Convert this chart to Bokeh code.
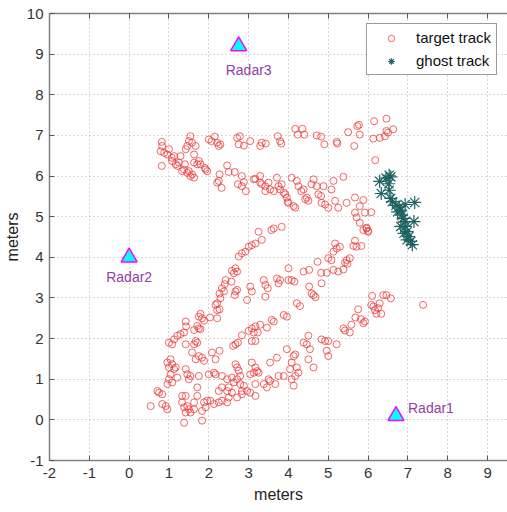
from bokeh.plotting import figure
from bokeh.models import LinearAxis, Range1d, ColumnDataSource
from bokeh.embed import file_html
from bokeh.resources import INLINE
from bokeh.core.properties import value

# ---------------- data ----------------
target_pts = [
    # top band, left part
    (0.82, 6.84), (0.83, 6.74), (0.79, 6.61), (0.88, 6.57), (0.82, 6.25), (1.0, 6.66),
    (1.07, 6.45), (0.96, 6.53), (1.13, 6.49), (1.08, 6.37), (1.17, 6.29), (1.25, 6.33),
    (1.29, 6.49), (1.21, 6.25), (1.33, 6.12), (1.4, 6.29), (1.38, 6.16), (1.46, 6.08),
    (1.5, 6.12), (1.54, 6.0), (1.58, 6.04), (1.63, 5.96), (1.5, 6.86), (1.46, 6.74),
    (1.42, 6.66), (1.54, 6.98), (1.58, 6.82), (1.67, 6.74), (1.63, 6.53), (1.63, 6.33),
    (1.71, 6.29), (1.75, 6.37), (1.79, 6.29), (1.9, 6.2), (1.96, 6.12), (1.92, 6.16),
    (2.0, 6.9), (2.07, 6.86), (2.15, 6.97), (2.21, 6.82), (2.25, 6.74), (2.29, 6.78),
    (2.46, 6.26), (2.5, 6.1), (2.65, 6.1), (2.71, 6.94), (2.78, 6.98), (2.75, 6.78),
    (2.88, 6.75), (3.04, 6.86), (3.29, 6.74), (3.33, 6.82), (3.43, 6.8), (3.73, 6.98),
    (3.79, 6.86), (3.82, 6.8), (2.21, 5.84), (2.27, 6.04), (2.32, 5.71), (2.25, 5.88),
    (2.83, 6.0), (2.88, 5.85), (2.73, 5.8), (2.83, 5.75), (2.93, 5.63), (3.13, 5.92),
    (3.17, 5.93), (3.29, 6.0), (3.29, 5.84), (3.33, 5.8), (3.42, 5.75), (3.5, 5.84),
    (3.54, 5.67), (3.42, 5.63), (3.71, 5.96), (3.75, 5.75), (3.79, 5.67), (3.83, 5.8),
    (3.88, 5.59), (3.92, 5.55), (3.96, 5.47), (4.0, 5.34), (3.63, 5.63),
    # top band, right part
    (4.17, 7.16), (4.35, 7.16), (4.23, 7.02), (4.4, 7.02), (4.71, 7.0), (4.82, 6.97),
    (4.9, 6.78), (5.21, 6.84), (5.23, 6.8), (5.5, 7.08), (5.73, 7.23), (5.77, 7.26),
    (5.79, 7.02), (5.65, 6.74), (6.15, 7.35), (6.46, 7.41), (6.13, 6.92), (6.29, 6.94),
    (6.42, 6.98), (6.5, 7.07), (6.63, 7.15), (6.46, 7.11), (6.18, 6.39),
    # second band, right part
    (4.08, 5.96), (4.21, 5.88), (4.25, 5.75), (4.32, 5.63), (4.38, 5.67), (4.42, 5.43),
    (4.5, 5.39), (4.46, 5.47), (4.63, 5.92), (4.58, 5.8), (4.71, 5.75), (4.75, 5.55),
    (4.82, 5.51), (4.88, 5.75), (4.83, 5.34), (4.92, 5.3), (5.0, 5.22), (5.08, 5.67),
    (5.13, 5.88), (5.17, 5.39), (5.25, 5.22), (5.38, 5.98), (5.46, 5.34), (5.67, 5.47),
    (5.88, 5.41), (5.67, 5.1), (5.79, 5.26), (5.92, 5.1), (6.08, 5.11), (5.71, 4.98),
    (5.79, 4.85), (5.96, 4.73), (6.0, 4.65), (4.17, 5.22), (4.13, 5.26), (3.98, 5.36),
    (6.83, 4.87),
    # middle diagonals, left
    (3.25, 4.63), (3.33, 4.43), (3.57, 4.67), (3.63, 4.71), (3.83, 4.75), (2.92, 4.14),
    (3.0, 4.26), (3.08, 4.3), (3.17, 4.34), (2.83, 4.1), (2.75, 4.02), (2.67, 3.73),
    (2.71, 3.65), (2.63, 3.61), (2.58, 3.67), (2.42, 3.44), (2.4, 3.34), (2.33, 3.24),
    (2.38, 3.16), (2.27, 3.11), (2.29, 2.99), (2.21, 2.87), (2.17, 2.83), (2.27, 2.72),
    (2.21, 2.7), (2.57, 3.4), (2.67, 3.16), (2.71, 3.2), (2.65, 3.07), (2.96, 2.95),
    (3.04, 3.28), (3.08, 3.16), (3.38, 3.44), (3.42, 3.32), (3.48, 3.24), (3.42, 3.03),
    (3.71, 3.48), (3.79, 3.44), (3.75, 3.36), (4.0, 3.44), (3.88, 2.58), (3.96, 2.54),
    (3.58, 2.46), (3.63, 2.42), (3.17, 2.3), (3.08, 2.25), (3.29, 2.34), (1.79, 2.61),
    (1.75, 2.54), (1.83, 2.5), (1.88, 2.44), (2.03, 2.52), (2.21, 2.5), (1.42, 2.42),
    (1.43, 2.3), (1.71, 2.31), (1.75, 2.25), (1.63, 2.21),
    # middle diagonals, right
    (5.88, 4.67), (6.0, 4.63), (5.96, 4.71), (5.17, 4.34), (5.21, 4.22), (5.29, 4.26),
    (5.13, 4.14), (5.0, 3.98), (5.08, 3.93), (5.67, 4.41), (5.63, 4.28), (5.71, 4.26),
    (5.83, 4.28), (5.54, 3.98), (5.46, 3.93), (5.42, 3.87), (5.48, 3.84), (5.38, 3.7),
    (5.25, 3.65), (5.13, 3.69), (4.96, 3.62), (4.82, 3.62), (4.73, 3.89), (4.52, 3.69),
    (4.38, 3.65), (4.0, 3.73), (4.08, 3.44), (4.15, 3.4), (4.83, 3.36), (4.52, 3.28),
    (4.58, 3.11), (4.63, 3.07), (4.68, 3.02), (4.21, 2.87), (4.29, 2.8), (6.1, 3.05),
    (6.38, 3.07), (6.46, 3.07), (6.57, 2.99), (6.13, 2.79), (6.17, 2.7), (6.25, 2.75),
    (6.29, 2.87), (6.33, 2.61), (6.21, 2.61), (6.08, 2.83), (5.75, 2.72), (5.68, 2.52),
    (5.82, 2.48), (5.88, 2.38), (5.92, 2.42), (5.58, 2.34), (5.38, 2.25), (5.42, 2.2),
    (7.38, 2.83),
    # bottom, left
    (1.79, 2.23), (1.13, 1.98), (1.0, 1.9), (1.08, 1.86), (1.21, 2.07), (1.29, 2.11),
    (1.38, 2.15), (1.42, 1.86), (1.67, 1.94), (1.71, 1.9), (1.63, 1.86), (1.58, 1.66),
    (1.75, 1.57), (1.83, 1.53), (1.67, 1.49), (1.88, 1.45), (2.08, 1.66), (2.27, 1.7),
    (2.17, 1.49), (2.61, 1.82), (2.67, 1.86), (2.73, 1.9), (2.83, 2.08), (3.0, 2.19),
    (3.13, 2.15), (3.17, 1.94), (3.08, 1.94), (3.23, 2.15), (3.46, 2.27), (1.04, 1.49),
    (0.96, 1.41), (1.08, 1.37), (1.0, 1.29), (1.13, 1.25), (1.04, 1.12), (1.0, 1.0),
    (1.08, 0.92), (0.96, 0.88), (1.21, 1.04), (1.17, 1.29), (1.42, 1.25), (1.46, 1.12),
    (1.54, 1.08), (1.5, 1.0), (1.75, 1.08), (1.71, 0.8), (2.0, 1.12), (2.13, 1.16),
    (2.17, 1.12), (2.33, 1.08), (2.46, 1.0), (2.58, 1.04), (2.67, 1.37), (2.71, 1.29),
    (2.75, 1.21), (2.79, 1.08), (2.71, 1.0), (2.63, 0.92), (2.5, 0.8), (2.46, 0.71),
    (2.33, 0.8), (2.25, 0.71), (2.79, 0.88), (2.83, 0.71), (2.96, 0.71), (2.88, 0.84),
    (3.08, 1.41), (3.17, 1.29), (3.21, 1.2), (3.25, 1.16), (3.13, 1.16), (3.04, 1.12),
    (3.17, 0.88), (3.17, 0.59), (3.38, 0.88), (3.54, 1.41), (3.71, 1.53), (3.5, 1.0),
    (3.54, 0.96), (3.67, 0.88), (3.75, 1.08), (3.88, 1.08), (3.96, 1.74), (3.46, 0.8),
    (0.71, 0.71), (0.75, 0.67), (0.83, 0.63), (0.54, 0.34), (0.83, 0.39), (0.92, 0.34),
    (0.96, 0.26), (1.33, 0.59), (1.42, 0.59), (1.33, 0.43), (1.38, 0.31), (1.46, 0.34),
    (1.5, 0.26), (1.42, 0.18), (1.54, 0.18), (1.63, 0.26), (1.38, -0.07), (1.83, -0.02),
    (1.88, 0.43), (1.92, 0.31), (1.96, 0.47), (2.04, 0.47), (2.13, 0.39), (2.25, 0.43),
    (2.33, 0.47), (2.46, 0.43), (2.5, 0.55), (2.58, 0.67), (2.71, 0.55), (2.83, 0.63),
    (3.04, 0.67), (1.71, 0.59), (1.63, 0.43), (1.83, 0.22),
    # bottom, right
    (4.5, 2.07), (4.38, 1.9), (4.46, 1.86), (4.54, 1.74), (4.83, 1.98), (4.92, 1.94),
    (5.0, 1.94), (5.21, 1.86), (4.96, 1.7), (5.0, 1.57), (4.5, 1.49), (4.63, 1.29),
    (5.54, 2.15), (4.13, 1.57), (4.17, 1.61), (4.08, 1.41), (4.04, 1.25), (4.21, 1.29),
    (4.25, 1.16), (4.17, 1.08), (4.08, 1.0), (4.13, 0.84),
]
target_x = [p_[0] for p_ in target_pts]
target_y = [p_[1] for p_ in target_pts]

ghost_x = [6.29, 6.45, 6.53, 6.57, 6.52, 6.33, 6.53, 6.57, 6.61, 6.70, 6.78, 6.82, 6.93,
           7.17, 6.74, 6.84, 7.15, 6.82, 6.94, 6.98, 7.02, 7.07, 7.11, 6.93, 6.88, 6.90, 6.98]
ghost_y = [5.87, 5.95, 6.02, 5.98, 5.81, 5.57, 5.65, 5.45, 5.37, 5.28, 5.24, 5.16, 5.30,
           5.35, 5.12, 5.04, 4.88, 4.76, 4.76, 4.63, 4.51, 4.39, 4.31, 4.88, 4.96, 4.59, 4.43]

radar_x = [6.7, 0.0, 2.75]
radar_y = [0.1, 4.0, 9.2]
radar_names = ["Radar1", "Radar2", "Radar3"]

x_ticks = list(range(-2, 10))
y_ticks = list(range(-1, 11))
x_tick_labels = {t: str(t) for t in x_ticks}
y_tick_labels = {t: str(t) for t in y_ticks}

# ---------------- styles ----------------
FONT = "Liberation Sans"
AX = "#808080"
TXT = "#333333"
label_dx = [12, 0, 10]
label_dy = [-8, 20, 24]
label_align = ["left", "center", "center"]

p = figure(width=507, height=512, x_range=Range1d(-2, 9.5), y_range=Range1d(-1, 10),
           output_backend="svg", toolbar_location=None,
           min_border_left=48, min_border_right=0, min_border_top=13, min_border_bottom=52,
           background_fill_color="white", border_fill_color="white")
p.outline_line_color = None

for ax in (p.xaxis[0], p.yaxis[0]):
    ax.axis_line_color = AX
    ax.axis_line_width = 1.5
    ax.major_tick_in = 5
    ax.major_tick_out = 0
    ax.major_tick_line_color = "#555555"
    ax.minor_tick_line_color = None
    ax.major_label_text_font = FONT
    ax.major_label_text_font_size = "15px"
    ax.major_label_text_color = TXT
    ax.axis_label = "meters"
    ax.axis_label_text_font = FONT
    ax.axis_label_text_font_size = "16px"
    ax.axis_label_text_font_style = "normal"
    ax.axis_label_text_color = "#222222"

p.xaxis.ticker = x_ticks
p.yaxis.ticker = y_ticks
p.xaxis.major_label_overrides = x_tick_labels
p.yaxis.major_label_overrides = y_tick_labels
p.xaxis.major_label_standoff = 7
p.xaxis.axis_label_standoff = 5
p.yaxis.major_label_standoff = 6
p.yaxis.axis_label_standoff = 3

top = LinearAxis(ticker=x_ticks, major_tick_in=5, major_tick_out=0,
                 minor_tick_line_color=None, major_label_text_color=None,
                 major_label_text_font_size="1px",
                 axis_line_color=AX, axis_line_width=1.5, major_tick_line_color="#555555")
p.add_layout(top, "above")

p.xgrid.ticker = x_ticks
p.ygrid.ticker = y_ticks
for g in (p.xgrid[0], p.ygrid[0]):
    g.grid_line_color = "#8a8a8a"
    g.grid_line_alpha = 0.7
    g.grid_line_dash = "1 3"
    g.grid_line_width = 1

r_t = p.scatter(target_x, target_y, marker="circle", size=7, fill_color=None,
                line_color="#EE3333", line_alpha=0.75, line_width=1,
                legend_label="target track")
r_g = p.scatter(ghost_x, ghost_y, marker="asterisk", size=13, line_color="#1E6262",
                line_width=1.2, legend_label="ghost track")

p.scatter(radar_x, radar_y, marker="triangle", size=16, fill_color="#00FFFF",
          line_color="#FF00FF", line_width=1.5)

lab_src = ColumnDataSource(dict(x=radar_x, y=radar_y, t=radar_names,
                                dx=label_dx, dy=label_dy, al=label_align))
p.text(x="x", y="y", text="t", x_offset="dx", y_offset="dy", text_align="al",
       source=lab_src, text_baseline="middle", text_font=value(FONT),
       text_font_size="14px", text_color="#9040A8")

lg = p.legend[0]
lg.location = "top_right"
lg.margin = 10
lg.padding = 5
lg.spacing = 6
lg.glyph_width = 38
lg.glyph_height = 16
lg.label_height = 16
lg.label_standoff = 6
lg.label_text_font = FONT
lg.label_text_font_size = "15px"
lg.label_text_color = "#111111"
lg.border_line_color = "#333333"
lg.border_line_width = 1
lg.background_fill_color = "white"
lg.background_fill_alpha = 1.0

open("out.html", "w").write(file_html(p, INLINE))
